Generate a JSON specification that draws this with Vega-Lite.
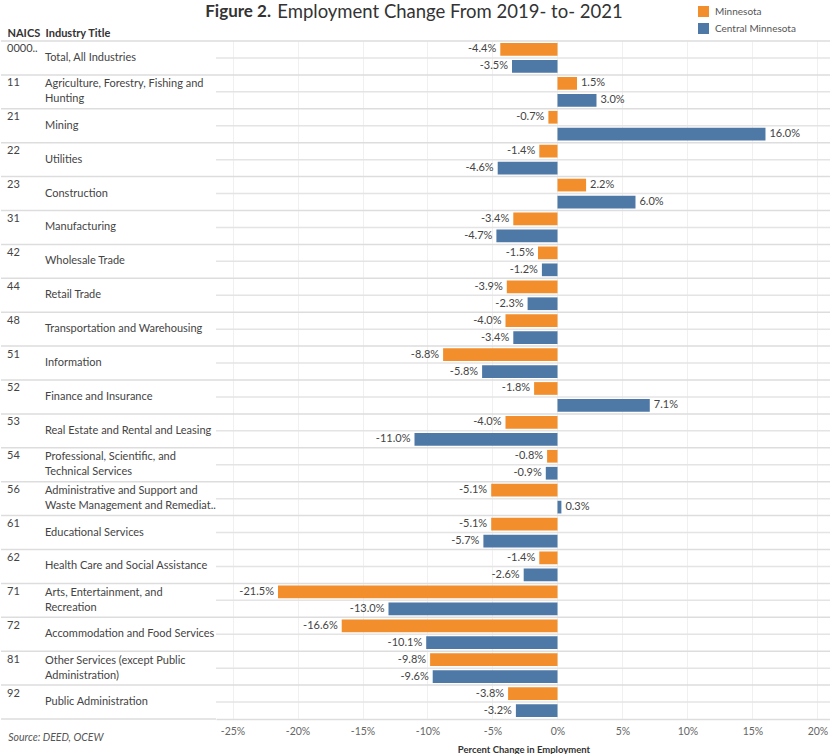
{
  "$schema": "https://vega.github.io/schema/vega-lite/v6.json",
  "padding": {"left": 0, "top": 2, "right": 0, "bottom": 0},
  "bounds": "flush",
  "spacing": 0,
  "background": "white",
  "title": {"text": "Figure 2.", "anchor": "start", "dx": 205, "fontSize": 17, "fontWeight": "bold", "color": "#333333", "offset": -18.5},
  "config": {
    "font": "Lato",
    "view": {"stroke": null},
    "locale": {"number": {"decimal": ".", "thousands": ",", "grouping": [3], "currency": ["$", ""], "minus": "-"}},
    "axis": {"labelFont": "Lato", "titleFont": "Lato"},
    "legend": {"labelFont": "Lato"},
    "title": {"font": "Lato"}
  },
  "datasets": {
    "rows": [
      {"naics": "0000..", "title": "Total, All Industries", "area": "Minnesota", "change": -0.044},
      {"naics": "0000..", "title": "Total, All Industries", "area": "Central Minnesota", "change": -0.035},
      {"naics": "11", "title": "Agriculture, Forestry, Fishing and\nHunting", "area": "Minnesota", "change": 0.015},
      {"naics": "11", "title": "Agriculture, Forestry, Fishing and\nHunting", "area": "Central Minnesota", "change": 0.030},
      {"naics": "21", "title": "Mining", "area": "Minnesota", "change": -0.007},
      {"naics": "21", "title": "Mining", "area": "Central Minnesota", "change": 0.160},
      {"naics": "22", "title": "Utilities", "area": "Minnesota", "change": -0.014},
      {"naics": "22", "title": "Utilities", "area": "Central Minnesota", "change": -0.046},
      {"naics": "23", "title": "Construction", "area": "Minnesota", "change": 0.022},
      {"naics": "23", "title": "Construction", "area": "Central Minnesota", "change": 0.060},
      {"naics": "31", "title": "Manufacturing", "area": "Minnesota", "change": -0.034},
      {"naics": "31", "title": "Manufacturing", "area": "Central Minnesota", "change": -0.047},
      {"naics": "42", "title": "Wholesale Trade", "area": "Minnesota", "change": -0.015},
      {"naics": "42", "title": "Wholesale Trade", "area": "Central Minnesota", "change": -0.012},
      {"naics": "44", "title": "Retail Trade", "area": "Minnesota", "change": -0.039},
      {"naics": "44", "title": "Retail Trade", "area": "Central Minnesota", "change": -0.023},
      {"naics": "48", "title": "Transportation and Warehousing", "area": "Minnesota", "change": -0.040},
      {"naics": "48", "title": "Transportation and Warehousing", "area": "Central Minnesota", "change": -0.034},
      {"naics": "51", "title": "Information", "area": "Minnesota", "change": -0.088},
      {"naics": "51", "title": "Information", "area": "Central Minnesota", "change": -0.058},
      {"naics": "52", "title": "Finance and Insurance", "area": "Minnesota", "change": -0.018},
      {"naics": "52", "title": "Finance and Insurance", "area": "Central Minnesota", "change": 0.071},
      {"naics": "53", "title": "Real Estate and Rental and Leasing", "area": "Minnesota", "change": -0.040},
      {"naics": "53", "title": "Real Estate and Rental and Leasing", "area": "Central Minnesota", "change": -0.110},
      {"naics": "54", "title": "Professional, Scientific, and\nTechnical Services", "area": "Minnesota", "change": -0.008},
      {"naics": "54", "title": "Professional, Scientific, and\nTechnical Services", "area": "Central Minnesota", "change": -0.009},
      {"naics": "56", "title": "Administrative and Support and\nWaste Management and Remediat..", "area": "Minnesota", "change": -0.051},
      {"naics": "56", "title": "Administrative and Support and\nWaste Management and Remediat..", "area": "Central Minnesota", "change": 0.003},
      {"naics": "61", "title": "Educational Services", "area": "Minnesota", "change": -0.051},
      {"naics": "61", "title": "Educational Services", "area": "Central Minnesota", "change": -0.057},
      {"naics": "62", "title": "Health Care and Social Assistance", "area": "Minnesota", "change": -0.014},
      {"naics": "62", "title": "Health Care and Social Assistance", "area": "Central Minnesota", "change": -0.026},
      {"naics": "71", "title": "Arts, Entertainment, and\nRecreation", "area": "Minnesota", "change": -0.215},
      {"naics": "71", "title": "Arts, Entertainment, and\nRecreation", "area": "Central Minnesota", "change": -0.130},
      {"naics": "72", "title": "Accommodation and Food Services", "area": "Minnesota", "change": -0.166},
      {"naics": "72", "title": "Accommodation and Food Services", "area": "Central Minnesota", "change": -0.101},
      {"naics": "81", "title": "Other Services (except Public\nAdministration)", "area": "Minnesota", "change": -0.098},
      {"naics": "81", "title": "Other Services (except Public\nAdministration)", "area": "Central Minnesota", "change": -0.096},
      {"naics": "92", "title": "Public Administration", "area": "Minnesota", "change": -0.038},
      {"naics": "92", "title": "Public Administration", "area": "Central Minnesota", "change": -0.032}
    ]
  },
  "hconcat": [
    {
      "width": 215,
      "height": 678,
      "data": {"name": "rows"},
      "transform": [{"filter": "datum.area === 'Minnesota'"}],
      "title": {"text": "Source: DEED, OCEW", "orient": "bottom", "anchor": "start", "dx": 8, "fontSize": 10.5, "fontStyle": "italic", "fontWeight": "normal", "color": "#555555", "offset": 13},
      "layer": [
        {
          "mark": {"type": "rule", "color": "#dddddd", "strokeWidth": 1.5},
          "encoding": {
            "y": {"field": "naics", "type": "nominal", "bandPosition": 0, "scale": {"domain": ["0000..","11","21","22","23","31","42","44","48","51","52","53","54","56","61","62","71","72","81","92"], "paddingInner": 0, "paddingOuter": 0}, "axis": null}
          }
        },
        {
          "transform": [{"filter": "datum.naics === '92'"}],
          "mark": {"type": "rule", "color": "#dddddd", "strokeWidth": 1.5},
          "encoding": {
            "y": {"field": "naics", "type": "nominal", "bandPosition": 1, "scale": {"domain": ["0000..","11","21","22","23","31","42","44","48","51","52","53","54","56","61","62","71","72","81","92"], "paddingInner": 0, "paddingOuter": 0}, "axis": null}
          }
        },
        {
          "mark": {"type": "text", "align": "left", "baseline": "middle", "fontSize": 11, "color": "#444444"},
          "encoding": {
            "x": {"datum": "NAICS", "type": "nominal", "scale": {"type": "point", "domain": ["NAICS", "Industry Title"], "range": [6, 44], "padding": 0}, "axis": {"orient": "top", "title": null, "labelAlign": "left", "labelAngle": 0, "labelFontWeight": "bold", "labelFontSize": 11, "labelColor": "#333333", "ticks": false, "tickSize": 0, "domain": false, "grid": false, "labelPadding": 3}},
            "y": {"field": "naics", "type": "nominal", "bandPosition": 0.25, "scale": {"domain": ["0000..","11","21","22","23","31","42","44","48","51","52","53","54","56","61","62","71","72","81","92"], "paddingInner": 0, "paddingOuter": 0}, "axis": null},
            "text": {"field": "naics"}
          }
        },
        {
          "transform": [{"filter": "indexof(datum.title, '\\n') < 0"}],
          "mark": {"type": "text", "align": "left", "baseline": "middle", "fontSize": 11, "color": "#444444"},
          "encoding": {
            "x": {"datum": "Industry Title", "type": "nominal"},
            "y": {"field": "naics", "type": "nominal", "bandPosition": 0.5, "scale": {"domain": ["0000..","11","21","22","23","31","42","44","48","51","52","53","54","56","61","62","71","72","81","92"], "paddingInner": 0, "paddingOuter": 0}, "axis": null},
            "text": {"field": "title"}
          }
        },
        {
          "transform": [{"filter": "indexof(datum.title, '\\n') >= 0"}],
          "mark": {"type": "text", "align": "left", "baseline": "middle", "fontSize": 11, "color": "#444444", "lineBreak": "\n", "lineHeight": 15, "dy": -7.5},
          "encoding": {
            "x": {"datum": "Industry Title", "type": "nominal"},
            "y": {"field": "naics", "type": "nominal", "bandPosition": 0.5, "scale": {"domain": ["0000..","11","21","22","23","31","42","44","48","51","52","53","54","56","61","62","71","72","81","92"], "paddingInner": 0, "paddingOuter": 0}, "axis": null},
            "text": {"field": "title"}
          }
        }
      ]
    },
    {
      "width": 615,
      "height": 678,
      "data": {"name": "rows"},
      "title": {"text": "Employment Change From 2019- to- 2021", "anchor": "start", "dx": 62, "fontSize": 18.5, "fontWeight": "normal", "color": "#333333", "offset": 19},
      "layer": [
        {
          "transform": [{"filter": "datum.area === 'Minnesota'"}],
          "mark": {"type": "rule", "color": "#dddddd", "strokeWidth": 1.5},
          "encoding": {
            "y": {"field": "naics", "type": "nominal", "bandPosition": 0, "scale": {"domain": ["0000..","11","21","22","23","31","42","44","48","51","52","53","54","56","61","62","71","72","81","92"], "paddingInner": 0, "paddingOuter": 0}, "axis": null}
          }
        },
        {
          "transform": [{"filter": "datum.area === 'Minnesota'"}],
          "mark": {"type": "rule", "color": "#e4e4e4", "strokeWidth": 1.5},
          "encoding": {
            "y": {"field": "naics", "type": "nominal", "bandPosition": 0.5, "scale": {"domain": ["0000..","11","21","22","23","31","42","44","48","51","52","53","54","56","61","62","71","72","81","92"], "paddingInner": 0, "paddingOuter": 0}, "axis": null}
          }
        },
        {
          "mark": {"type": "bar"},
          "encoding": {
            "x": {"field": "change", "type": "quantitative", "scale": {"domain": [-0.2627, 0.2104], "nice": false, "zero": false}, "axis": {"values": [-0.25, -0.2, -0.15, -0.1, -0.05, 0, 0.05, 0.1, 0.15, 0.2], "format": ".0%", "grid": true, "gridColor": "#f0f0f0", "gridWidth": 1, "ticks": false, "tickSize": 0, "domain": true, "domainColor": "#dddddd", "domainWidth": 1.5, "labelColor": "#666666", "labelFontSize": 10.5, "labelPadding": 7, "title": "Percent Change in Employment", "titleFontSize": 9.5, "titleFontWeight": "bold", "titleColor": "#333333", "titlePadding": 8}},
            "y": {"field": "naics", "type": "nominal", "scale": {"domain": ["0000..","11","21","22","23","31","42","44","48","51","52","53","54","56","61","62","71","72","81","92"], "paddingInner": 0, "paddingOuter": 0}, "axis": {"labels": false, "ticks": false, "tickSize": 0, "title": null, "domain": true, "domainColor": "#d6d6d6", "domainWidth": 1.5, "grid": false}},
            "yOffset": {"field": "area", "type": "nominal", "scale": {"domain": ["Minnesota", "Central Minnesota"], "paddingInner": 0.25, "paddingOuter": 0.125}},
            "color": {"field": "area", "type": "nominal", "scale": {"domain": ["Minnesota", "Central Minnesota"], "range": ["#F28E2B", "#4E79A7"]}, "legend": {"orient": "none", "legendX": 697, "legendY": -35, "title": null, "symbolType": "square", "symbolSize": 121, "symbolStrokeWidth": 0, "labelFontSize": 10, "labelColor": "#555555", "rowPadding": 6, "labelOffset": 6, "padding": 0}}
          }
        },
        {
          "transform": [{"filter": "datum.change < 0"}],
          "mark": {"type": "text", "align": "right", "dx": -4, "baseline": "middle", "fontSize": 11, "color": "#444444"},
          "encoding": {
            "x": {"field": "change", "type": "quantitative"},
            "y": {"field": "naics", "type": "nominal", "scale": {"domain": ["0000..","11","21","22","23","31","42","44","48","51","52","53","54","56","61","62","71","72","81","92"], "paddingInner": 0, "paddingOuter": 0}},
            "yOffset": {"field": "area", "type": "nominal"},
            "text": {"field": "change", "format": ".1%"}
          }
        },
        {
          "transform": [{"filter": "datum.change >= 0"}],
          "mark": {"type": "text", "align": "left", "dx": 4, "baseline": "middle", "fontSize": 11, "color": "#444444"},
          "encoding": {
            "x": {"field": "change", "type": "quantitative"},
            "y": {"field": "naics", "type": "nominal", "scale": {"domain": ["0000..","11","21","22","23","31","42","44","48","51","52","53","54","56","61","62","71","72","81","92"], "paddingInner": 0, "paddingOuter": 0}},
            "yOffset": {"field": "area", "type": "nominal"},
            "text": {"field": "change", "format": ".1%"}
          }
        }
      ]
    }
  ]
}
